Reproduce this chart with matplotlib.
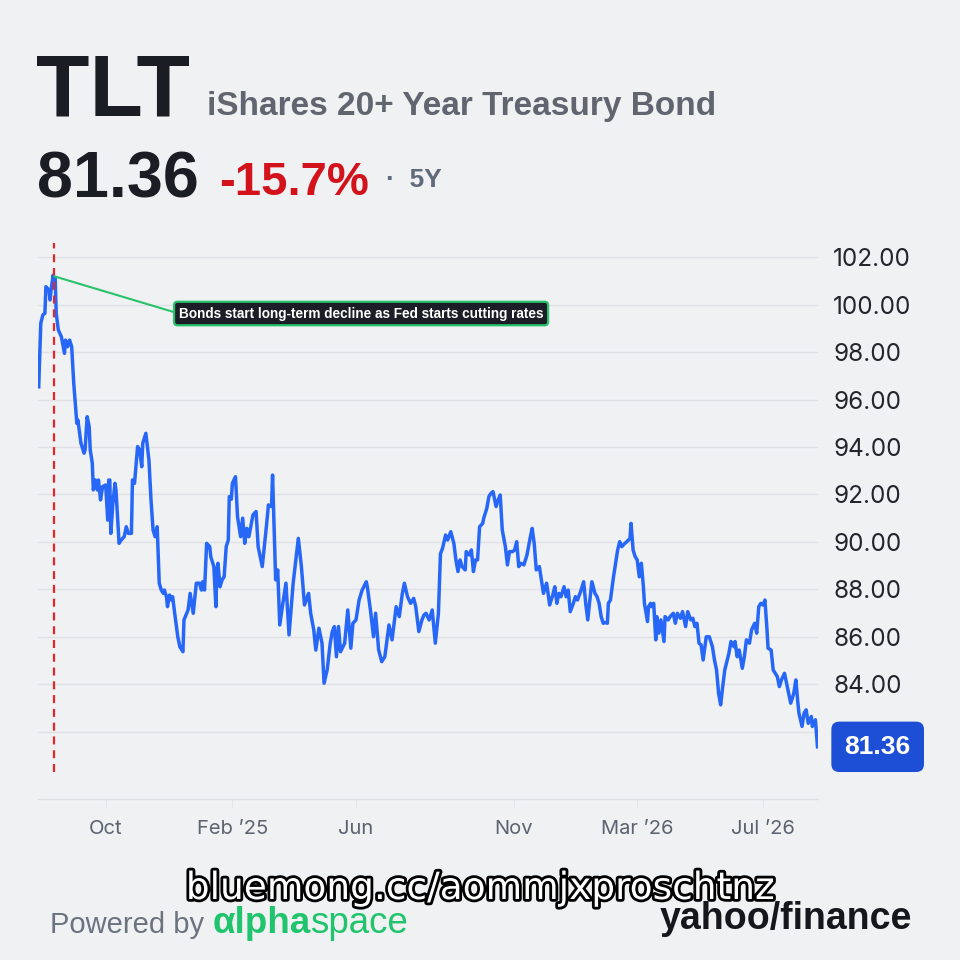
import numpy as np
import pandas as pd
import matplotlib
matplotlib.use("Agg")
import matplotlib.pyplot as plt
import matplotlib.patheffects as pe
from matplotlib.transforms import blended_transform_factory

# data
start_date = "2024-07-28"
day_offset = [
    0, 2, 4, 6, 7, 10, 11, 12, 14, 15, 16, 17, 19, 22, 25, 26, 28, 30, 32, 34,
    37, 38, 41, 44, 45, 47, 49, 50, 52, 53, 55, 57, 58, 60, 62, 65, 67, 68, 69, 70,
    72, 74, 75, 78, 80, 83, 85, 87, 90, 91, 93, 96, 98, 100, 101, 104, 107, 109, 111, 113,
    115, 117, 119, 121, 122, 124, 125, 127, 129, 130, 132, 135, 137, 140, 141, 145, 147, 150, 153, 156,
    158, 159, 161, 163, 166, 167, 170, 172, 173, 174, 176, 178, 180, 182, 184, 185, 187, 188, 191, 193,
    196, 198, 200, 202, 204, 208, 211, 213, 217, 221, 223, 226, 227, 230, 232, 234, 237, 240, 243, 247,
    252, 255, 258, 262, 264, 267, 269, 272, 275, 277, 280, 283, 285, 287, 289, 291, 293, 297, 300, 303,
    305, 308, 311, 314, 318, 319, 322, 325, 327, 330, 333, 336, 340, 343, 347, 350, 353, 355, 358, 361,
    364, 366, 369, 372, 374, 376, 379, 382, 385, 388, 390, 392, 395, 397, 400, 403, 405, 407, 409, 411,
    414, 415, 418, 420, 422, 424, 426, 428, 431, 432, 435, 437, 439, 441, 444, 446, 448, 450, 453, 455,
    457, 460, 462, 464, 466, 468, 471, 474, 477, 479, 481, 483, 486, 488, 490, 493, 494, 496, 499, 501,
    503, 505, 507, 510, 512, 514, 516, 519, 521, 523, 526, 529, 531, 533, 535, 537, 540, 542, 544, 546,
    548, 550, 552, 553, 555, 558, 559, 562, 564, 566, 569, 571, 574, 575, 577, 579, 581, 583, 585, 587,
    588, 591, 592, 594, 595, 597, 599, 600, 602, 604, 607, 608, 611, 613, 616, 618, 620, 623, 625, 628,
    630, 633, 635, 637, 639, 641, 643, 645, 648, 651, 654, 656, 658, 660, 662, 664, 666, 670, 672, 675,
    676, 678, 680, 683, 685, 687, 690, 692, 695, 697, 699, 701, 703, 705, 707, 708, 711, 713, 715, 717,
    719, 721, 724, 726, 728, 730, 733, 735, 737, 738, 741, 743, 745, 747, 750, 751, 754, 755, 756,
]
close = [
    96.54, 99.22, 99.57, 99.64, 100.76, 100.62, 100.20, 100.62, 101.25, 100.76, 101.11, 99.64, 98.94, 98.65, 97.95, 98.51, 98.23, 98.51, 98.23, 96.69,
    95.00, 95.14, 94.16, 93.74, 93.88, 95.28, 94.86, 93.88, 93.32, 92.19, 92.61, 92.19, 92.61, 91.77, 92.33, 92.40, 90.92, 92.61, 92.61, 90.36,
    91.63, 92.47, 92.19, 89.94, 90.08, 90.22, 90.64, 90.36, 90.36, 92.61, 92.47, 94.02, 93.88, 93.17, 94.16, 94.58, 93.45, 91.77, 90.50, 90.22,
    90.64, 88.26, 87.97, 87.83, 87.97, 87.69, 87.27, 87.76, 87.55, 87.69, 86.99, 86.00, 85.58, 85.37, 86.71, 87.13, 87.83, 86.99, 88.26, 88.26,
    87.97, 88.32, 87.97, 89.94, 89.80, 89.38, 88.96, 87.27, 88.82, 89.10, 88.11, 88.40, 88.53, 89.80, 90.08, 91.91, 91.80, 92.47, 92.75, 91.06,
    90.22, 91.00, 89.94, 90.57, 90.22, 91.14, 91.28, 89.80, 88.96, 90.64, 91.56, 91.49, 92.82, 88.40, 88.82, 86.50, 87.41, 88.26, 86.08, 88.26,
    90.15, 88.96, 87.34, 87.83, 86.99, 86.29, 85.44, 86.36, 85.73, 84.04, 84.60, 85.73, 86.22, 86.43, 85.16, 86.43, 85.37, 85.73, 87.13, 85.52,
    86.57, 86.71, 87.55, 87.97, 88.32, 88.11, 87.13, 86.00, 86.99, 85.44, 84.95, 85.16, 86.50, 85.87, 87.27, 86.85, 87.83, 88.26, 87.69, 87.41,
    87.62, 87.27, 86.22, 86.71, 86.92, 86.99, 86.71, 87.13, 85.73, 86.99, 89.50, 89.73, 90.29, 90.08, 90.43, 89.94, 89.24, 88.75, 89.24, 88.96,
    88.82, 89.59, 89.45, 89.66, 88.75, 89.24, 89.24, 90.64, 90.78, 91.00, 91.42, 91.91, 92.05, 92.12, 91.49, 91.77, 91.98, 90.50, 89.80, 89.03,
    89.59, 89.59, 89.66, 90.01, 88.96, 89.10, 89.03, 89.45, 90.15, 90.57, 89.94, 88.82, 88.96, 88.40, 87.83, 88.26, 87.97, 87.34, 87.76, 88.11,
    87.41, 87.83, 87.69, 88.11, 87.69, 87.97, 87.06, 87.41, 87.69, 87.55, 87.90, 88.32, 87.41, 86.71, 87.55, 88.32, 87.83, 87.69, 87.41, 86.85,
    86.57, 86.60, 86.57, 87.41, 87.55, 88.53, 88.82, 89.66, 90.01, 89.80, 89.94, 90.01, 90.15, 90.78, 89.66, 89.38, 89.24, 88.53, 89.10, 88.11,
    87.41, 86.64, 87.27, 87.41, 87.27, 87.41, 85.87, 86.85, 86.15, 86.71, 85.80, 86.85, 86.71, 86.85, 86.99, 86.57, 86.99, 86.78, 87.06, 86.43,
    87.06, 86.71, 86.78, 86.43, 86.57, 85.73, 85.66, 85.02, 86.00, 86.00, 85.58, 85.02, 84.60, 83.62, 83.13, 83.90, 84.60, 85.30, 85.80, 85.58,
    85.80, 85.16, 85.44, 84.67, 85.16, 85.87, 85.73, 86.29, 86.57, 86.15, 87.27, 87.41, 87.34, 87.55, 86.29, 85.52, 85.44, 84.60, 84.46, 84.32,
    83.90, 84.18, 84.46, 84.04, 83.62, 83.20, 83.62, 84.18, 83.20, 82.78, 82.22, 82.78, 82.92, 82.35, 82.64, 82.22, 82.50, 81.93, 81.36,
]
tick_dates = ["2024-10-01", "2025-02-01", "2025-06-01", "2025-11-01", "2026-03-01", "2026-07-01"]
tick_labels = ["Oct", "Feb \u201925", "Jun", "Nov", "Mar \u201926", "Jul \u201926"]
price_levels = [82, 84, 86, 88, 90, 92, 94, 96, 98, 100, 102]
event_date = "2024-08-12"
event_value = 101.2
note = "Bonds start long-term decline as Fed starts cutting rates"
ticker = "TLT"
fund_name = "iShares 20+ Year Treasury Bond"
last_price = 81.36
change_pct = -15.7
period = "5Y"

BG = "#f0f1f3"
dates = pd.Timestamp(start_date) + pd.to_timedelta(day_offset, unit="D")

fig = plt.figure(figsize=(9.6, 9.6), dpi=100, facecolor=BG)
W, H = 960, 960
ax = fig.add_axes([38 / W, 1 - 799 / H, 780 / W, 559 / H])
ax.set_facecolor(BG)

ax.plot(dates, close, color="#2767f8", lw=2.5, solid_joinstyle="round", zorder=3)

ax.set_xlim(pd.Timestamp(start_date) - pd.Timedelta(days=0.7),
            pd.Timestamp(start_date) + pd.Timedelta(days=756.5))
ax.set_ylim(79.16, 102.73)

for s in ["top", "left", "right"]:
    ax.spines[s].set_visible(False)
ax.spines["bottom"].set_color("#dcdee2")
ax.spines["bottom"].set_linewidth(1)

ax.set_xticks(pd.to_datetime(tick_dates))
ax.set_xticklabels(tick_labels, fontsize=14.5, color="#5b6370", family="Inter")
ax.tick_params(axis="x", length=6, color="#e2e4e8", pad=9)

ax.yaxis.tick_right()
ax.set_yticks(price_levels)
ax.set_yticklabels(["" if v == 82 else f"{v:.2f}" for v in price_levels],
                   fontsize=17.5, color="#22262c", family="Inter")
ax.tick_params(axis="y", length=0, pad=11)
ax.grid(axis="y", color="#dfe1e5", lw=1)
ax.set_axisbelow(True)

# event marker
ax.axvline(pd.Timestamp(event_date), ymin=0.048, ymax=0.995, color="#e3262b",
           lw=1.6, dashes=(3.6, 2.6), zorder=4)
ax.annotate(note, xy=(pd.Timestamp(event_date), event_value),
            xytext=(pd.Timestamp(start_date) + pd.Timedelta(days=136), 99.63),
            ha="left", va="center", fontsize=9.8, fontweight="bold", color="white",
            family="Liberation Sans",
            bbox=dict(boxstyle="round,pad=0.35,rounding_size=0.25", fc="#1b1e26",
                      ec="#27c26a", lw=1.6),
            arrowprops=dict(arrowstyle="-", color="#27c26a", lw=1.5,
                            shrinkA=0, shrinkB=0, relpos=(0, 0.5)),
            zorder=5)

# last price badge
trans = blended_transform_factory(ax.transAxes, ax.transData)
ax.text(1.0765, last_price, f"{last_price:.2f}", transform=trans, ha="center", va="center",
        fontsize=19, fontweight="bold", color="white", family="Liberation Sans",
        bbox=dict(boxstyle="round,pad=0.5,rounding_size=0.3", fc="#1c4fd6", ec="none"),
        clip_on=False, zorder=6)

# header
def px(x, y):
    return x / W, 1 - y / H

hdr = "Liberation Sans"
fig.text(*px(36, 115), ticker, fontsize=63, fontweight="bold", color="#1b1d24",
         family=hdr, va="baseline")
fig.text(*px(207, 115), fund_name, fontsize=24, fontweight="bold", color="#60656f",
         family=hdr, va="baseline")
fig.text(*px(37, 197), f"{last_price:.2f}", fontsize=46.5, fontweight="bold", color="#1b1d24",
         family=hdr, va="baseline")
fig.text(*px(219, 195), f"{change_pct:.1f}%", fontsize=34, fontweight="bold", color="#d3131c",
         family=hdr, va="baseline")
fig.text(*px(386, 187), f"\u00b7  {period}", fontsize=19, fontweight="bold", color="#5f6b7a",
         family=hdr, va="baseline")

# footer
fig.canvas.draw()
renderer = fig.canvas.get_renderer()
t1 = fig.text(*px(50, 933), "Powered by ", fontsize=21, color="#6b7280",
              family="Liberation Sans", va="baseline")
bb = t1.get_window_extent(renderer)
t2 = fig.text(bb.x1 / W, 1 - 933 / H, "\u03b1lpha", fontsize=26.5, fontweight="bold",
              color="#1fc46c", family="Liberation Sans", va="baseline")
bb2 = t2.get_window_extent(renderer)
fig.text(bb2.x1 / W, 1 - 933 / H, "space", fontsize=26.5, color="#1fc46c",
         family="Liberation Sans", va="baseline")
fig.text(*px(912, 929), "yahoo/finance", fontsize=27, fontweight="bold", color="#16171c",
         family="Liberation Sans", ha="right", va="baseline")

wm = fig.text(*px(480, 889), "bluemong.cc/aommjxproschtnz", fontsize=27, color="white",
              family="DejaVu Sans", ha="center", va="center", zorder=10)
wm.set_path_effects([pe.withStroke(linewidth=4, foreground="black")])

fig.savefig("out.png", dpi=100, facecolor=BG)
